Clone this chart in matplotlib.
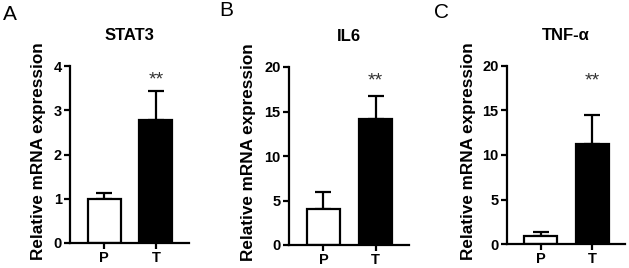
import matplotlib
matplotlib.use("Agg")
import matplotlib.pyplot as plt

plt.rcParams['font.family'] = ['Liberation Sans', 'DejaVu Sans']

groups = ["P", "T"]
titles = ["STAT3", "IL6", "TNF-α"]
letters = ["A", "B", "C"]
means = [[1.0, 2.77], [4.05, 14.2], [0.95, 11.2]]
errs = [[0.13, 0.67], [1.95, 2.5], [0.35, 3.25]]
star_y = [3.68, 18.4, 18.3]
ymax = [4, 20, 20]
yticks = [[0, 1, 2, 3, 4], [0, 5, 10, 15, 20], [0, 5, 10, 15, 20]]

W, H = 629, 268
fig = plt.figure(figsize=(W / 100, H / 100), dpi=100)

# axes boxes in pixels: left, right, bottom(y from top), top
boxes = [(70, 189, 243, 66), (289, 409, 245, 67), (507, 625, 244, 66)]
letter_pos = [(3, 15), (219, 11), (434, 12)]
label_x = [-0.20, -0.275, -0.263]

for i in range(3):
    l, r, b, t = boxes[i]
    ax = fig.add_axes([l / W, 1 - b / H, (r - l) / W, (b - t) / H])
    x = [0, 1]
    ax.bar(x, means[i], width=0.64, color=["white", "black"],
           edgecolor="black", linewidth=1.6, zorder=2)
    ax.errorbar(x, means[i], yerr=[[0, 0], errs[i]], fmt="none",
                ecolor="black", elinewidth=1.6, capsize=6, capthick=1.6, zorder=1)
    ax.text(1, star_y[i], "**", ha="center", va="center", fontsize=14,
            color="#333333")
    ax.set_xlim(-0.66, 1.64)
    ax.set_ylim(0, ymax[i])
    ax.set_yticks(yticks[i])
    ax.set_xticks(x)
    ax.set_xticklabels(groups, fontweight="bold", fontsize=10.5)
    for lab in ax.get_yticklabels():
        lab.set_fontweight("bold")
        lab.set_fontsize(10.5)
    ax.spines["top"].set_visible(False)
    ax.spines["right"].set_visible(False)
    ax.spines["left"].set_linewidth(1.6)
    ax.spines["bottom"].set_linewidth(1.6)
    ax.tick_params(width=1.6, length=4, pad=2)
    ax.set_ylabel("Relative mRNA expression", fontsize=12.3, fontweight="bold")
    ax.yaxis.set_label_coords(label_x[i], 0.52)
    ax.set_title(titles[i], fontsize=12, fontweight="bold", pad=19)
    lx, ly = letter_pos[i]
    fig.text(lx / W, 1 - ly / H, letters[i], fontsize=15, ha="left", va="center")

fig.savefig("out.png", dpi=100)
